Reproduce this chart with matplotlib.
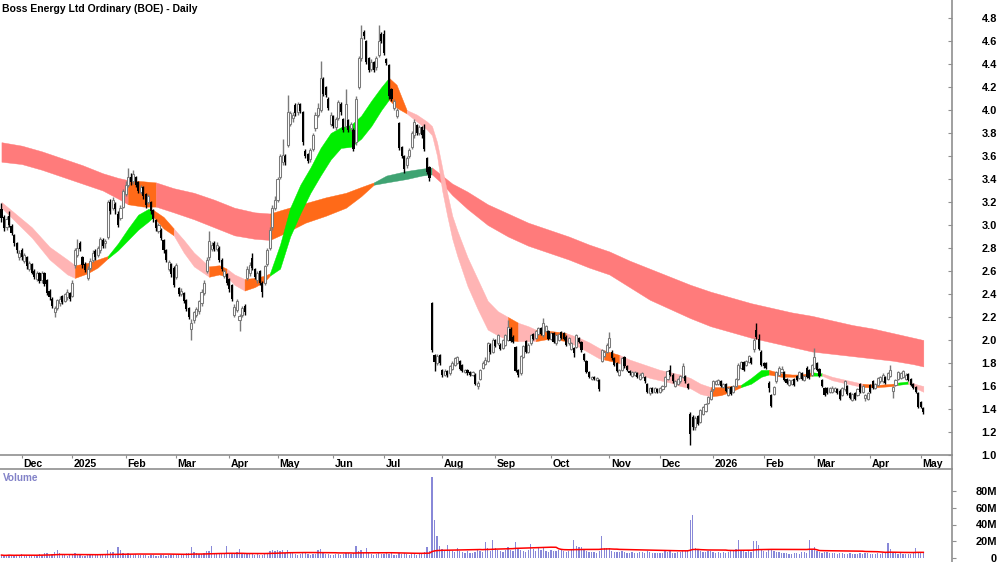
import numpy as np
import pandas as pd
import matplotlib
matplotlib.use("Agg")
import matplotlib.pyplot as plt
from matplotlib.lines import Line2D
from matplotlib.transforms import ScaledTranslation

plt.rcParams['font.family'] = ['Liberation Sans', 'DejaVu Sans']

TITLE = "Boss Energy Ltd Ordinary (BOE) - Daily"
first_day, last_day = "2024-11-20", "2026-05-05"
holidays = ["2024-12-25", "2024-12-26", "2025-01-01", "2025-01-27", "2025-04-18",
            "2025-04-21", "2025-04-25", "2025-06-09", "2025-12-25", "2025-12-26",
            "2026-01-01", "2026-01-26", "2026-04-03", "2026-04-06"]

opens = [
 3.14, 3.07, 2.98, 3.08, 2.99, 2.91, 2.84, 2.72, 2.78, 2.69,
 2.72, 2.62, 2.66, 2.60, 2.53, 2.58, 2.52, 2.58, 2.52, 2.43,
 2.36, 2.24, 2.28, 2.32, 2.38, 2.34, 2.37, 2.41, 2.38, 2.65,
 2.74, 2.84, 2.72, 2.66, 2.54, 2.63, 2.70, 2.77, 2.74, 2.78,
 2.87, 2.84, 2.90, 3.20, 3.15, 3.18, 3.10, 3.06, 3.16, 3.27,
 3.35, 3.42, 3.38, 3.42, 3.37, 3.29, 3.33, 3.27, 3.20, 3.20,
 3.13, 3.04, 2.95, 2.96, 2.87, 2.78, 2.62, 2.66, 2.63, 2.55,
 2.45, 2.40, 2.41, 2.35, 2.28, 2.10, 2.17, 2.22, 2.25, 2.32,
 2.41, 2.60, 2.72, 2.79, 2.84, 2.79, 2.80, 2.70, 2.56, 2.57,
 2.53, 2.48, 2.22, 2.26, 2.17, 2.22, 2.30, 2.54, 2.58, 2.71,
 2.62, 2.52, 2.60, 2.50, 2.50, 2.66, 2.80, 2.98, 3.15, 3.22,
 3.42, 3.55, 3.60, 3.70, 3.88, 3.93, 4.04, 3.98, 4.05, 3.98,
 3.64, 3.62, 3.57, 3.66, 3.84, 3.96, 4.00, 4.27, 4.20, 4.10,
 3.88, 3.95, 3.85, 3.93, 4.05, 3.92, 3.86, 3.91, 3.84, 3.83,
 3.72, 4.20, 4.45, 4.68, 4.60, 4.45, 4.36, 4.42, 4.37, 4.48,
 4.66, 4.66, 4.44, 4.39, 4.18, 4.02, 3.95, 3.89, 3.68, 3.60,
 3.52, 3.60, 3.68, 3.78, 3.87, 3.80, 3.85, 3.83, 3.58, 3.50,
 2.32, 1.87, 1.80, 1.87, 1.74, 1.70, 1.73, 1.71, 1.75, 1.78,
 1.80, 1.82, 1.78, 1.72, 1.74, 1.72, 1.70, 1.70, 1.60, 1.66,
 1.76, 1.79, 1.82, 1.96, 1.90, 2.00, 1.97, 1.96, 1.93, 1.96,
 2.00, 2.10, 2.03, 1.94, 1.74, 1.71, 1.85, 1.99, 1.90, 1.97,
 2.05, 2.02, 2.05, 2.10, 2.04, 2.08, 2.08, 2.01, 2.06, 1.97,
 2.00, 2.07, 2.06, 2.03, 1.97, 1.92, 1.93, 1.94, 2.02, 1.98,
 1.88, 1.82, 1.72, 1.66, 1.68, 1.65, 1.65, 1.82, 1.86, 1.90,
 1.94, 1.90, 1.84, 1.80, 1.70, 1.74, 1.85, 1.77, 1.73, 1.69,
 1.70, 1.71, 1.66, 1.68, 1.68, 1.62, 1.54, 1.58, 1.55, 1.57,
 1.55, 1.57, 1.60, 1.66, 1.74, 1.70, 1.60, 1.62, 1.64, 1.68,
 1.69, 1.62, 1.36, 1.33, 1.24, 1.34, 1.29, 1.36, 1.38, 1.45,
 1.49, 1.57, 1.62, 1.62, 1.64, 1.59, 1.62, 1.52, 1.59, 1.55,
 1.60, 1.66, 1.76, 1.81, 1.78, 1.81, 1.84, 1.92, 2.09, 2.01,
 1.90, 1.80, 1.80, 1.63, 1.52, 1.53, 1.64, 1.70, 1.72, 1.72,
 1.66, 1.61, 1.62, 1.66, 1.69, 1.67, 1.71, 1.65, 1.76, 1.74,
 1.70, 1.76, 1.80, 1.75, 1.65, 1.58, 1.58, 1.55, 1.55, 1.56,
 1.57, 1.56, 1.52, 1.57, 1.60, 1.54, 1.48, 1.54, 1.52, 1.62,
 1.55, 1.50, 1.49, 1.61, 1.64, 1.58, 1.61, 1.64, 1.64, 1.68,
 1.66, 1.69, 1.56, 1.61, 1.66, 1.67, 1.68, 1.66, 1.70, 1.66,
 1.62, 1.59, 1.54, 1.46, 1.41]

closes = [
 3.06, 2.97, 3.05, 3.00, 2.93, 2.84, 2.78, 2.76, 2.72, 2.74,
 2.64, 2.67, 2.58, 2.55, 2.58, 2.51, 2.58, 2.49, 2.41, 2.37,
 2.30, 2.28, 2.35, 2.36, 2.33, 2.40, 2.42, 2.36, 2.50, 2.78,
 2.80, 2.79, 2.65, 2.61, 2.62, 2.69, 2.76, 2.72, 2.80, 2.88,
 2.82, 2.86, 3.20, 3.12, 3.22, 3.14, 3.00, 3.15, 3.30, 3.35,
 3.42, 3.37, 3.44, 3.35, 3.30, 3.33, 3.25, 3.17, 3.25, 3.12,
 3.05, 2.97, 3.00, 2.89, 2.78, 2.70, 2.68, 2.57, 2.48, 2.65,
 2.40, 2.43, 2.34, 2.27, 2.20, 2.15, 2.24, 2.27, 2.34, 2.42,
 2.50, 2.70, 2.86, 2.83, 2.79, 2.83, 2.70, 2.62, 2.60, 2.50,
 2.44, 2.36, 2.29, 2.34, 2.21, 2.28, 2.24, 2.62, 2.65, 2.63,
 2.55, 2.58, 2.50, 2.42, 2.64, 2.78, 2.96, 3.15, 3.22, 3.40,
 3.60, 3.61, 3.55, 3.98, 3.97, 3.96, 3.97, 4.05, 3.99, 3.72,
 3.60, 3.56, 3.65, 3.78, 3.96, 4.02, 4.28, 4.14, 4.13, 4.02,
 3.96, 3.86, 3.92, 4.07, 3.98, 3.83, 4.05, 3.83, 3.88, 3.66,
 4.10, 4.45, 4.63, 4.64, 4.42, 4.35, 4.42, 4.35, 4.45, 4.60,
 4.60, 4.50, 4.41, 4.12, 4.10, 4.08, 4.00, 3.67, 3.60, 3.49,
 3.58, 3.65, 3.80, 3.90, 3.80, 3.85, 3.78, 3.66, 3.46, 3.41,
 1.91, 1.81, 1.86, 1.80, 1.70, 1.73, 1.70, 1.77, 1.80, 1.84,
 1.85, 1.75, 1.73, 1.74, 1.71, 1.70, 1.72, 1.62, 1.63, 1.74,
 1.80, 1.83, 1.97, 1.90, 2.00, 1.95, 2.04, 1.92, 2.00, 2.04,
 2.11, 1.99, 1.98, 1.73, 1.70, 1.86, 1.95, 1.90, 1.96, 2.04,
 2.01, 2.08, 2.10, 2.05, 2.15, 2.12, 2.01, 2.06, 1.98, 2.04,
 2.05, 2.02, 2.01, 1.96, 2.02, 1.97, 1.89, 2.04, 1.98, 1.91,
 1.83, 1.72, 1.68, 1.68, 1.66, 1.67, 1.57, 1.91, 1.90, 1.96,
 2.02, 1.84, 1.78, 1.73, 1.74, 1.84, 1.77, 1.74, 1.71, 1.72,
 1.72, 1.68, 1.70, 1.71, 1.64, 1.55, 1.58, 1.55, 1.58, 1.55,
 1.58, 1.60, 1.68, 1.73, 1.70, 1.64, 1.64, 1.66, 1.69, 1.77,
 1.64, 1.58, 1.18, 1.24, 1.32, 1.27, 1.39, 1.42, 1.44, 1.50,
 1.56, 1.64, 1.64, 1.65, 1.60, 1.62, 1.56, 1.58, 1.53, 1.60,
 1.66, 1.78, 1.81, 1.74, 1.82, 1.86, 1.80, 2.00, 2.03, 1.92,
 1.78, 1.77, 1.76, 1.58, 1.43, 1.59, 1.72, 1.76, 1.75, 1.65,
 1.63, 1.65, 1.65, 1.61, 1.65, 1.72, 1.66, 1.69, 1.68, 1.67,
 1.78, 1.85, 1.74, 1.69, 1.60, 1.52, 1.54, 1.58, 1.58, 1.58,
 1.54, 1.49, 1.58, 1.64, 1.53, 1.50, 1.53, 1.49, 1.57, 1.55,
 1.60, 1.52, 1.54, 1.55, 1.58, 1.62, 1.67, 1.68, 1.70, 1.63,
 1.71, 1.74, 1.59, 1.65, 1.72, 1.71, 1.73, 1.70, 1.65, 1.61,
 1.58, 1.55, 1.42, 1.42, 1.37]

highs = [
 3.19, 3.09, 3.08, 3.12, 3.01, 2.92, 2.85, 2.78, 2.80, 2.76,
 2.73, 2.69, 2.67, 2.62, 2.60, 2.59, 2.60, 2.59, 2.53, 2.44,
 2.37, 2.30, 2.36, 2.38, 2.39, 2.41, 2.44, 2.42, 2.52, 2.80,
 2.88, 2.86, 2.73, 2.68, 2.64, 2.71, 2.78, 2.79, 2.82, 2.90,
 2.89, 2.88, 3.22, 3.23, 3.24, 3.20, 3.12, 3.17, 3.31, 3.38,
 3.50, 3.45, 3.48, 3.43, 3.38, 3.35, 3.34, 3.28, 3.27, 3.21,
 3.14, 3.05, 3.02, 2.97, 2.88, 2.79, 2.70, 2.67, 2.64, 2.67,
 2.46, 2.45, 2.42, 2.36, 2.29, 2.18, 2.25, 2.29, 2.35, 2.44,
 2.52, 2.72, 2.95, 2.85, 2.86, 2.85, 2.82, 2.71, 2.62, 2.58,
 2.54, 2.49, 2.31, 2.36, 2.23, 2.30, 2.31, 2.64, 2.68, 2.76,
 2.63, 2.60, 2.61, 2.51, 2.65, 2.80, 2.98, 3.17, 3.25, 3.42,
 3.62, 3.75, 3.62, 4.13, 3.99, 3.98, 4.06, 4.07, 4.06, 3.99,
 3.66, 3.63, 3.67, 3.80, 3.98, 4.06, 4.43, 4.29, 4.21, 4.11,
 3.98, 3.96, 3.94, 4.09, 4.07, 3.93, 4.18, 3.92, 3.90, 3.84,
 4.12, 4.47, 4.74, 4.70, 4.61, 4.46, 4.44, 4.43, 4.47, 4.74,
 4.68, 4.70, 4.45, 4.40, 4.19, 4.10, 4.02, 3.90, 3.69, 3.61,
 3.60, 3.67, 3.82, 3.92, 3.88, 3.87, 3.86, 3.88, 3.59, 3.51,
 2.33, 1.88, 1.88, 1.88, 1.75, 1.75, 1.74, 1.78, 1.82, 1.85,
 1.86, 1.83, 1.79, 1.75, 1.75, 1.73, 1.73, 1.71, 1.64, 1.75,
 1.82, 1.85, 1.98, 1.97, 2.02, 2.01, 2.05, 1.97, 2.01, 2.05,
 2.17, 2.11, 2.04, 1.95, 1.75, 1.87, 1.96, 2.00, 1.97, 2.05,
 2.06, 2.09, 2.11, 2.11, 2.19, 2.13, 2.09, 2.07, 2.07, 2.05,
 2.06, 2.08, 2.07, 2.04, 2.03, 1.98, 1.94, 2.05, 2.03, 1.99,
 1.89, 1.83, 1.73, 1.69, 1.69, 1.68, 1.66, 1.92, 1.91, 1.97,
 2.07, 1.91, 1.85, 1.81, 1.75, 1.85, 1.86, 1.78, 1.74, 1.73,
 1.73, 1.72, 1.71, 1.72, 1.69, 1.63, 1.59, 1.59, 1.59, 1.58,
 1.59, 1.61, 1.69, 1.74, 1.78, 1.71, 1.65, 1.67, 1.70, 1.80,
 1.70, 1.63, 1.37, 1.35, 1.34, 1.35, 1.40, 1.43, 1.45, 1.51,
 1.57, 1.65, 1.65, 1.66, 1.65, 1.63, 1.63, 1.59, 1.60, 1.61,
 1.67, 1.80, 1.82, 1.82, 1.83, 1.87, 1.85, 2.02, 2.15, 2.05,
 1.91, 1.81, 1.81, 1.64, 1.53, 1.60, 1.73, 1.77, 1.77, 1.73,
 1.67, 1.66, 1.66, 1.67, 1.70, 1.73, 1.72, 1.70, 1.77, 1.75,
 1.79, 1.93, 1.81, 1.76, 1.66, 1.59, 1.59, 1.59, 1.60, 1.59,
 1.58, 1.57, 1.59, 1.65, 1.61, 1.55, 1.54, 1.55, 1.58, 1.63,
 1.61, 1.53, 1.55, 1.62, 1.65, 1.63, 1.68, 1.69, 1.71, 1.69,
 1.72, 1.78, 1.60, 1.66, 1.73, 1.72, 1.74, 1.71, 1.71, 1.67,
 1.63, 1.60, 1.55, 1.47, 1.42]

lows = [
 3.03, 2.95, 2.96, 2.98, 2.91, 2.82, 2.76, 2.70, 2.70, 2.67,
 2.62, 2.60, 2.57, 2.53, 2.51, 2.50, 2.50, 2.47, 2.39, 2.35,
 2.28, 2.20, 2.26, 2.30, 2.31, 2.33, 2.35, 2.34, 2.37, 2.63,
 2.72, 2.77, 2.63, 2.59, 2.52, 2.61, 2.68, 2.70, 2.72, 2.76,
 2.80, 2.80, 2.88, 3.10, 3.13, 3.10, 2.98, 3.04, 3.15, 3.25,
 3.33, 3.35, 3.36, 3.33, 3.28, 3.27, 3.23, 3.15, 3.18, 3.10,
 3.03, 2.95, 2.93, 2.87, 2.76, 2.68, 2.60, 2.55, 2.46, 2.53,
 2.38, 2.38, 2.32, 2.25, 2.18, 2.00, 2.15, 2.20, 2.23, 2.30,
 2.39, 2.58, 2.70, 2.77, 2.77, 2.77, 2.68, 2.60, 2.54, 2.48,
 2.42, 2.34, 2.20, 2.24, 2.08, 2.20, 2.22, 2.52, 2.56, 2.61,
 2.53, 2.50, 2.48, 2.37, 2.48, 2.64, 2.78, 2.96, 3.13, 3.20,
 3.40, 3.52, 3.52, 3.68, 3.86, 3.90, 3.95, 3.96, 3.97, 3.70,
 3.58, 3.54, 3.55, 3.64, 3.82, 3.94, 3.98, 4.12, 4.11, 4.00,
 3.86, 3.84, 3.83, 3.91, 3.96, 3.81, 3.84, 3.81, 3.82, 3.64,
 3.70, 4.18, 4.43, 4.62, 4.40, 4.33, 4.34, 4.33, 4.35, 4.46,
 4.58, 4.48, 4.39, 4.10, 4.08, 4.00, 3.93, 3.65, 3.58, 3.45,
 3.50, 3.58, 3.66, 3.76, 3.78, 3.78, 3.76, 3.64, 3.44, 3.38,
 1.90, 1.73, 1.78, 1.78, 1.68, 1.69, 1.68, 1.70, 1.74, 1.77,
 1.79, 1.74, 1.72, 1.71, 1.70, 1.69, 1.69, 1.61, 1.57, 1.65,
 1.75, 1.78, 1.81, 1.88, 1.89, 1.94, 1.96, 1.91, 1.92, 1.95,
 1.99, 1.98, 1.97, 1.72, 1.68, 1.70, 1.84, 1.89, 1.89, 1.96,
 2.00, 2.01, 2.04, 2.04, 2.03, 2.07, 2.00, 2.00, 1.97, 1.96,
 1.99, 2.01, 2.00, 1.95, 1.96, 1.91, 1.85, 1.93, 1.97, 1.90,
 1.82, 1.71, 1.67, 1.65, 1.65, 1.64, 1.56, 1.81, 1.85, 1.89,
 1.93, 1.83, 1.77, 1.72, 1.69, 1.73, 1.76, 1.73, 1.70, 1.68,
 1.69, 1.67, 1.65, 1.67, 1.63, 1.54, 1.52, 1.54, 1.54, 1.54,
 1.54, 1.56, 1.59, 1.65, 1.69, 1.63, 1.59, 1.61, 1.63, 1.67,
 1.63, 1.57, 1.09, 1.22, 1.22, 1.26, 1.28, 1.35, 1.37, 1.44,
 1.48, 1.56, 1.61, 1.61, 1.59, 1.58, 1.55, 1.51, 1.52, 1.54,
 1.59, 1.65, 1.75, 1.73, 1.77, 1.80, 1.79, 1.90, 2.01, 1.91,
 1.77, 1.76, 1.75, 1.55, 1.42, 1.52, 1.63, 1.69, 1.71, 1.64,
 1.62, 1.60, 1.61, 1.60, 1.64, 1.66, 1.65, 1.64, 1.67, 1.66,
 1.69, 1.75, 1.73, 1.68, 1.59, 1.51, 1.53, 1.54, 1.54, 1.55,
 1.53, 1.48, 1.51, 1.56, 1.52, 1.49, 1.47, 1.48, 1.51, 1.54,
 1.54, 1.47, 1.48, 1.54, 1.57, 1.57, 1.60, 1.63, 1.63, 1.62,
 1.65, 1.68, 1.50, 1.60, 1.65, 1.66, 1.67, 1.65, 1.64, 1.60,
 1.57, 1.54, 1.41, 1.41, 1.36]

volume_m = [
 3.5, 2.8, 3.2, 4.1, 2.6, 3.0, 3.8, 2.9, 4.4, 3.1,
 2.7, 3.3, 3.9, 2.5, 3.6, 4.2, 3.0, 5.8, 6.5, 4.0,
 5.2, 7.1, 9.3, 6.0, 4.2, 3.1, 2.8, 3.5, 4.0, 5.6,
 4.1, 3.2, 2.9, 2.6, 3.4, 3.0, 3.7, 4.5, 3.3, 5.1,
 4.6, 5.0, 9.2, 7.4, 6.8, 5.3, 13.0, 9.1, 6.2, 4.8,
 5.5, 4.2, 3.9, 4.6, 3.5, 3.2, 4.0, 3.6, 2.9, 3.4,
 3.1, 2.8, 2.5, 3.0, 3.3, 2.7, 3.8, 3.1, 4.2, 3.6,
 4.0, 3.2, 4.8, 5.5, 6.1, 13.2, 7.0, 6.3, 5.1, 4.4,
 5.8, 8.2, 8.0, 14.0, 5.7, 4.9, 6.0, 5.2, 4.6, 14.2,
 6.3, 5.4, 4.8, 6.9, 11.0, 5.6, 4.3, 6.1, 5.0, 4.2,
 3.8, 4.5, 3.2, 4.0, 5.3, 6.4, 7.8, 9.0, 8.2, 9.5,
 8.8, 9.6, 6.5, 9.0, 7.2, 5.4, 4.8, 4.1, 5.0, 6.2,
 5.5, 4.6, 3.9, 4.3, 5.1, 9.8, 10.2, 6.0, 5.2, 4.5,
 4.0, 3.6, 4.4, 5.0, 3.8, 4.2, 6.5, 5.8, 4.6, 6.0,
 14.0, 8.0, 9.5, 6.2, 12.0, 5.5, 4.9, 4.0, 4.4, 6.0,
 5.1, 4.7, 5.5, 4.3, 5.9, 4.0, 3.8, 6.4, 5.2, 5.8,
 4.6, 4.1, 5.0, 4.4, 3.9, 4.2, 5.3, 6.8, 13.0, 8.0,
 97.0, 45.0, 26.0, 14.0, 10.5, 9.0, 16.0, 9.6, 8.1, 7.5,
 12.0, 8.8, 7.0, 6.4, 7.9, 6.2, 5.8, 7.0, 9.2, 8.3,
 7.1, 18.6, 11.5, 8.4, 21.0, 12.0, 9.5, 8.0, 7.4, 10.1,
 12.8, 9.0, 8.2, 19.5, 11.2, 9.8, 8.0, 7.2, 9.6, 17.0,
 10.5, 8.4, 12.0, 9.1, 11.5, 8.0, 7.6, 9.4, 8.2, 7.8,
 10.1, 9.0, 8.5, 7.6, 8.8, 10.2, 22.0, 14.0, 13.5, 12.8,
 9.2, 8.6, 7.4, 6.8, 7.2, 6.5, 8.9, 26.0, 12.0, 11.5,
 12.3, 8.0, 7.5, 6.6, 7.0, 8.3, 6.9, 6.2, 5.8, 7.1,
 6.5, 5.9, 6.7, 7.4, 6.0, 8.5, 7.2, 5.6, 6.3, 5.8,
 6.1, 5.5, 7.8, 6.9, 8.4, 6.2, 5.9, 6.6, 7.0, 7.9,
 8.2, 9.6, 45.0, 51.0, 12.0, 9.8, 8.5, 7.2, 6.6, 7.8,
 8.0, 7.1, 6.4, 6.9, 5.8, 7.5, 6.2, 7.0, 8.4, 9.0,
 10.5, 22.0, 9.4, 8.1, 7.6, 8.8, 7.3, 20.0, 20.0, 15.0,
 9.8, 8.4, 7.7, 10.2, 9.5, 8.0, 6.9, 7.4, 6.2, 5.8,
 6.4, 5.2, 4.9, 5.5, 6.0, 5.1, 6.6, 7.3, 6.0, 22.0,
 9.5, 13.0, 8.1, 7.0, 6.4, 7.6, 6.8, 5.9, 6.3, 5.5,
 5.0, 6.2, 5.6, 4.8, 5.3, 6.0, 4.6, 5.1, 4.4, 5.7,
 4.9, 5.4, 6.3, 4.7, 5.0, 4.5, 5.8, 5.2, 6.0, 5.5,
 18.0, 11.0, 6.5, 5.6, 4.9, 5.8, 5.0, 4.6, 5.3, 4.8,
 6.0, 12.0, 7.5, 6.2, 5.4]

# long-term moving-average ribbon (bar index, upper edge, lower edge, colour code per span)
long_idx = [0, 8, 16, 24, 32, 40, 46, 50, 56, 61,
            68, 76, 84, 92, 100, 106, 112, 120, 128, 136,
            142, 147, 152, 160, 166, 170, 174, 178, 184, 192,
            200, 208, 216, 224, 232, 240, 248, 256, 264, 272,
            280, 288, 296, 304, 312, 320, 328, 336, 344, 352,
            360, 364]
long_top = [3.72, 3.69, 3.64, 3.58, 3.52, 3.45, 3.41, 3.39, 3.38, 3.37,
            3.32, 3.28, 3.22, 3.15, 3.11, 3.10, 3.14, 3.19, 3.24, 3.28,
            3.33, 3.37, 3.43, 3.47, 3.49, 3.50, 3.43, 3.36, 3.29, 3.18,
            3.10, 3.02, 2.96, 2.90, 2.83, 2.77, 2.69, 2.62, 2.55, 2.48,
            2.42, 2.37, 2.32, 2.28, 2.24, 2.21, 2.17, 2.13, 2.10, 2.06,
            2.02, 2.00]
long_bot = [3.55, 3.53, 3.48, 3.42, 3.36, 3.30, 3.23, 3.18, 3.16, 3.16,
            3.11, 3.05, 2.98, 2.91, 2.88, 2.87, 2.93, 3.02, 3.08, 3.15,
            3.25, 3.35, 3.37, 3.40, 3.43, 3.44, 3.36, 3.26, 3.14, 3.00,
            2.90, 2.82, 2.76, 2.70, 2.63, 2.57, 2.46, 2.35, 2.27, 2.19,
            2.12, 2.07, 2.02, 1.98, 1.94, 1.90, 1.88, 1.86, 1.84, 1.82,
            1.79, 1.77]
long_col = "SSSSSSSOOSSSSSSOOOOOODDDDSSSSSSSSSSSSSSSSSSSSSSSSSS"

# short-term moving-average ribbon
short_idx = [0, 12, 19, 26, 29, 34, 38, 42, 46, 50,
             54, 58, 60, 64, 68, 72, 76, 82, 86, 89,
             92, 96, 100, 104, 106, 110, 114, 118, 122, 126,
             130, 134, 138, 142, 146, 150, 153, 156, 160, 164,
             168, 170, 172, 174, 176, 178, 180, 184, 188, 192,
             196, 200, 204, 208, 211, 216, 220, 223, 228, 232,
             236, 238, 244, 248, 252, 256, 260, 264, 268, 272,
             276, 280, 284, 288, 292, 296, 300, 303, 308, 312,
             316, 320, 324, 328, 332, 336, 340, 346, 352, 354,
             358, 362, 364]
short_top = [3.20, 2.98, 2.81, 2.70, 2.65, 2.67, 2.70, 2.73, 2.84, 2.97,
             3.09, 3.14, 3.13, 3.07, 2.97, 2.87, 2.76, 2.64, 2.65, 2.62,
             2.57, 2.53, 2.54, 2.56, 2.58, 2.83, 3.15, 3.35, 3.50, 3.67,
             3.80, 3.85, 3.87, 3.95, 4.08, 4.20, 4.28, 4.22, 4.00, 3.96,
             3.90, 3.86, 3.72, 3.50, 3.28, 3.08, 2.95, 2.72, 2.53, 2.34,
             2.25, 2.20, 2.15, 2.12, 2.09, 2.08, 2.07, 2.06, 2.02, 1.98,
             1.93, 1.91, 1.87, 1.83, 1.80, 1.77, 1.74, 1.72, 1.70, 1.67,
             1.62, 1.59, 1.59, 1.60, 1.61, 1.67, 1.74, 1.74, 1.71, 1.70,
             1.70, 1.72, 1.71, 1.68, 1.66, 1.64, 1.62, 1.61, 1.62, 1.63,
             1.64, 1.61, 1.60]
short_bot = [3.15, 2.89, 2.70, 2.57, 2.54, 2.58, 2.63, 2.71, 2.78, 2.87,
             2.96, 3.03, 3.07, 2.97, 2.91, 2.76, 2.64, 2.55, 2.57, 2.55,
             2.48, 2.43, 2.46, 2.51, 2.56, 2.62, 2.90, 3.10, 3.28, 3.43,
             3.57, 3.67, 3.68, 3.75, 3.86, 4.00, 4.09, 4.02, 3.97, 3.90,
             3.83, 3.78, 3.60, 3.30, 3.08, 2.88, 2.73, 2.47, 2.27, 2.09,
             2.04, 2.00, 1.99, 1.99, 1.99, 2.01, 2.00, 1.99, 1.94, 1.89,
             1.84, 1.83, 1.80, 1.74, 1.70, 1.67, 1.65, 1.63, 1.60, 1.58,
             1.53, 1.51, 1.52, 1.55, 1.59, 1.62, 1.68, 1.70, 1.68, 1.68,
             1.68, 1.69, 1.69, 1.65, 1.63, 1.61, 1.59, 1.59, 1.60, 1.61,
             1.62, 1.57, 1.55]
short_col = ("PPPPOOOGGG" "GGOOPPPOOP" "POOOGGGGGG" "GGGGGGOOPP" "PPPPPPPPPP"
             "POPPOOOPPP" "POPPPPPPPP" "POOOGGGOOO" "OGPPPPOOOG" "PP")

band_colors = {'S': '#FF7B7B', 'O': '#FF6A18', 'D': '#3FA372',
               'P': '#FFB4B4', 'G': '#00EE00'}
price_ticks = [1.0, 1.2, 1.4, 1.6, 1.8, 2.0, 2.2, 2.4, 2.6, 2.8, 3.0,
               3.2, 3.4, 3.6, 3.8, 4.0, 4.2, 4.4, 4.6, 4.8]
volume_ticks = [0, 20, 40, 60, 80]
volume_tick_labels = ['0', '20M', '40M', '60M', '80M']

# ---------------------------------------------------------------------------
dates = pd.bdate_range(first_day, last_day)
dates = dates[~dates.isin(pd.to_datetime(holidays))]
n = len(opens)
dates = dates[:n]
x = np.arange(n)
o = np.asarray(opens); c = np.asarray(closes)
h = np.asarray(highs); l = np.asarray(lows)
vol = np.asarray(volume_m)

W, H = 1000, 562
fig = plt.figure(figsize=(W / 100, H / 100), dpi=100)
right = 951.7 / W
ax = fig.add_axes([0, 1 - 455 / H, right, 455 / H])
axv = fig.add_axes([0, 0, right, 93 / H], sharex=ax)
spine_c = '#8f8f8f'

def draw_ribbon(axis, idx, top, bot, codes):
    idx = np.asarray(idx); top = np.asarray(top); bot = np.asarray(bot)
    k = 0
    while k < len(codes):
        m = k
        while m + 1 < len(codes) and codes[m + 1] == codes[k]:
            m += 1
        sl = slice(k, m + 2)
        col = band_colors[codes[k]]
        axis.fill_between(idx[sl], top[sl], bot[sl], facecolor=col,
                          edgecolor=col, linewidth=0.3, zorder=1)
        k = m + 1

draw_ribbon(ax, long_idx, long_top, long_bot, long_col)
draw_ribbon(ax, short_idx, short_top, short_bot, short_col)

up = c >= o
dn = ~up
ax.vlines(x[up], l[up], h[up], color='#7a7a7a', lw=1.0, zorder=3)
ax.vlines(x[dn], l[dn], h[dn], color='black', lw=1.0, zorder=3)
ax.bar(x[up], np.maximum(c - o, 0.008)[up], bottom=o[up], width=0.82,
       facecolor='white', edgecolor='#7a7a7a', linewidth=0.75, zorder=4)
ax.bar(x[dn], np.maximum(o - c, 0.008)[dn], bottom=c[dn], width=0.85,
       color='black', linewidth=0, zorder=4)

ax.set_xlim(-0.57, 375.2)
ax.set_ylim(1.0, 1.0 + 455 / 115)
for s in ['left', 'top']:
    ax.spines[s].set_visible(False)
for s in ['bottom', 'right']:
    ax.spines[s].set_color(spine_c)
    ax.spines[s].set_linewidth(1.2)

ax.set_yticks(price_ticks)
ax.set_yticklabels([f"{v:.1f}" for v in price_ticks])
ax.tick_params(axis='y', left=False, right=True, labelleft=False, labelright=True,
               direction='in', length=3, color=spine_c, pad=32.6, labelsize=7.9)
for t in ax.get_yticklabels():
    t.set_ha('right'); t.set_fontweight('bold')

# month ticks
month_pos, month_lab = [], []
for i in range(1, n):
    if dates[i].month != dates[i - 1].month:
        month_pos.append(i)
        month_lab.append(str(dates[i].year) if dates[i].month == 1 else dates[i].strftime('%b'))
ax.set_xticks(month_pos)
ax.set_xticklabels(month_lab)
ax.tick_params(axis='x', bottom=True, top=False, direction='out', length=2.2,
               color=spine_c, pad=0.8, labelsize=7.6)
off = ScaledTranslation(1.5 / 100, 0, fig.dpi_scale_trans)
for t in ax.get_xticklabels():
    t.set_ha('left'); t.set_fontweight('bold')
    t.set_transform(t.get_transform() + off)

# volume
axv.bar(x, vol, width=0.5, color='#8888D8', linewidth=0, zorder=2)
vma = pd.Series(vol).rolling(50, min_periods=1).mean()
axv.plot(x, vma, color='#FF0000', lw=1.1, zorder=3)
axv.set_ylim(-4 / 0.8375, 89 / 0.8375)
for s in ['left', 'bottom']:
    axv.spines[s].set_visible(False)
for s in ['top', 'right']:
    axv.spines[s].set_color(spine_c)
    axv.spines[s].set_linewidth(1.2)
axv.set_yticks(volume_ticks)
axv.set_yticklabels(volume_tick_labels)
axv.tick_params(axis='y', left=False, right=True, labelleft=False, labelright=True,
                direction='out', length=3, color=spine_c, pad=29.6, labelsize=7.9)
for t in axv.get_yticklabels():
    t.set_ha('right'); t.set_fontweight('bold')
axv.tick_params(axis='x', bottom=False, top=False, labelbottom=False)

fig.add_artist(Line2D([right, right], [93 / H, 107 / H], transform=fig.transFigure,
                      color=spine_c, lw=1.2))

fig.text(2 / W, 1 - 8.5 / H, TITLE, ha='left', va='center', fontsize=7.5,
         fontweight='bold', color='black')
fig.text(3 / W, 1 - 478 / H, 'Volume', ha='left', va='center', fontsize=7.2,
         fontweight='bold', color='#8282C8')

fig.savefig('out.png', dpi=100)
